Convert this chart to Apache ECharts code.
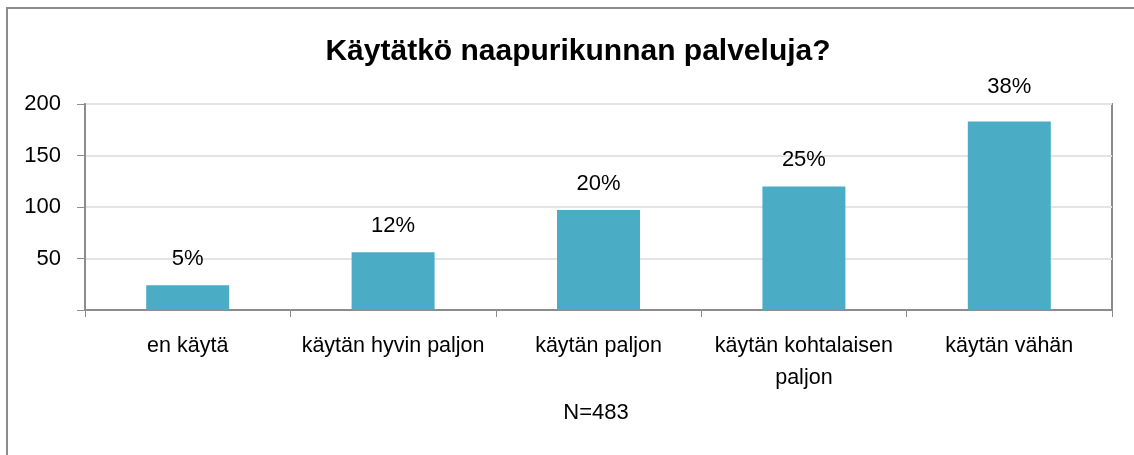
<!DOCTYPE html>
<html>
<head>
<meta charset="utf-8">
<script src="https://cdn.jsdelivr.net/npm/echarts@6/dist/echarts.min.js"></script>
<style>
html, body { margin: 0; padding: 0; background: #fff; }
#main { width: 1134px; height: 455px; }
</style>
</head>
<body>
<div id="main"></div>
<script>
var categories = ['en käytä', 'käytän hyvin paljon', 'käytän paljon', 'käytän kohtalaisen\npaljon', 'käytän vähän'];
var counts = [24, 56, 97, 120, 183];
var percents = ['5%', '12%', '20%', '25%', '38%'];
var yTicks = [0, 50, 100, 150, 200];

var myChart = echarts.init(document.getElementById('main'));
var font = 'Liberation Sans, Arial, sans-serif';

// the top label sits a little higher than the others in the original
var barData = counts.map(function (v, i) {
    return i === counts.length - 1 ? { value: v, label: { distance: 24 } } : v;
});

var option = {
    animation: false,
    title: {
        text: 'Käytätkö naapurikunnan palveluja?',
        left: 573,
        textAlign: 'center',
        top: 32,
        textStyle: { fontFamily: font, fontSize: 30, fontWeight: 'bold', color: '#000' }
    },
    graphic: [
        {
            type: 'rect',
            shape: { x: 7, y: 8, width: 1140, height: 460 },
            style: { fill: 'none', stroke: '#8c8c8c', lineWidth: 2 },
            silent: true
        },
        {
            type: 'text',
            x: 596,
            y: 413,
            style: {
                text: 'N=483', fontFamily: font, fontSize: 22, fill: '#000',
                align: 'center', verticalAlign: 'middle'
            }
        }
    ],
    grid: {
        left: 85,
        right: 22,
        top: 104,
        bottom: 145,
        show: true,
        borderColor: '#8c8c8c',
        borderWidth: 2
    },
    xAxis: {
        type: 'category',
        data: categories,
        axisLine: { lineStyle: { color: '#8c8c8c', width: 2 } },
        axisTick: { show: true, interval: 0, length: 7, lineStyle: { color: '#8c8c8c', width: 1 } },
        axisLabel: {
            interval: 0, hideOverlap: false,
            fontFamily: font, fontSize: 21.5, color: '#000', margin: 20, lineHeight: 32
        }
    },
    yAxis: {
        type: 'value',
        min: yTicks[0],
        max: yTicks[yTicks.length - 1],
        interval: 50,
        axisLine: { show: true, lineStyle: { color: '#8c8c8c', width: 2 } },
        axisTick: { show: true, length: 8, lineStyle: { color: '#8c8c8c' } },
        splitLine: { lineStyle: { color: '#e4e4e4', width: 2 } },
        axisLabel: {
            fontFamily: font, fontSize: 22, color: '#000', margin: 24, padding: [3, 0, 0, 0],
            formatter: function (v) { return v === 0 ? '' : String(v); }
        }
    },
    series: [{
        type: 'bar',
        data: barData,
        barWidth: '40.4%',
        itemStyle: { color: '#4BACC6' },
        label: {
            show: true,
            position: 'top',
            distance: 15,
            fontFamily: font,
            fontSize: 22,
            color: '#000',
            formatter: function (p) { return percents[p.dataIndex]; }
        }
    }]
};
myChart.setOption(option);
</script>
</body>
</html>
